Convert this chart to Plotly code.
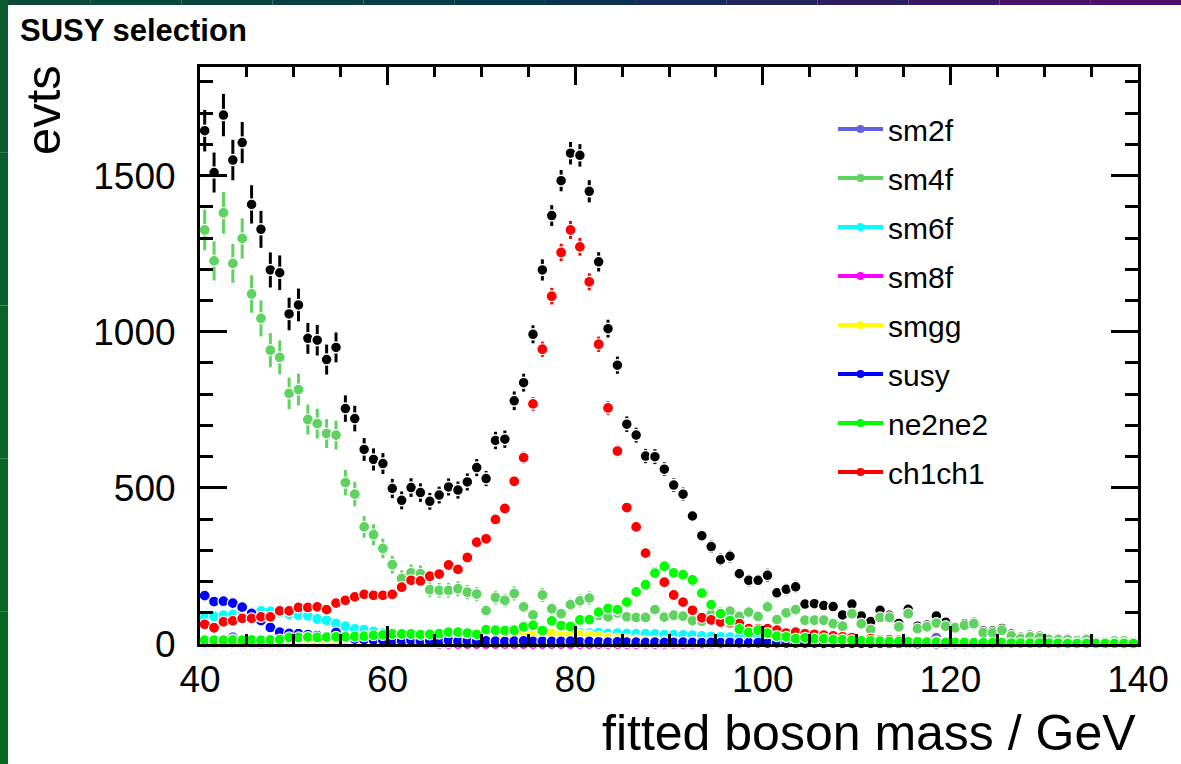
import numpy as np
import plotly.graph_objects as go

# ---------------- data ----------------
bin_centers = [40.5 + i for i in range(100)]

total = [1644, 1510, 1694, 1550, 1606, 1408, 1328, 1198, 1189, 1057,
         1086, 979, 973, 911, 950, 754, 722, 623, 591, 578,
         498, 460, 501, 485, 457, 477, 503, 493, 519, 565,
         530, 652, 656, 779, 837, 992, 1198, 1372, 1484, 1572,
         1565, 1450, 1224, 1010, 893, 704, 669, 602, 600, 560,
         509, 480, 410, 347, 312, 270, 281, 225, 204, 204,
         220, 164, 175, 183, 128, 129, 123, 120, 93, 128,
         90, 72, 108, 92, 66, 111, 57, 61, 90, 70,
         54, 65, 70, 42, 42, 50, 32, 22, 28, 25,
         18, 18, 18, 14, 18, 10, 10, 13, 13, 10]

sm2f = [1, 2, 1, 22, 2, 1, 2, 1, 1, 2,
        1, 1, 2, 1, 1, 2, 1, 1, 1, 2,
        1, 1, 1, 2, 1, 1, 1, 1, 2, 1,
        1, 1, 1, 1, 2, 1, 1, 1, 1, 1,
        1, 1, 1, 1, 1, 1, 1, 1, 1, 1,
        1, 1, 1, 1, 1, 1, 1, 1, 1, 1,
        1, 1, 1, 1, 1, 1, 1, 1, 1, 1,
        1, 1, 1, 1, 1, 1, 1, 1, 20, 1,
        1, 1, 1, 1, 1, 1, 1, 1, 1, 1,
        1, 1, 1, 1, 1, 1, 1, 1, 1, 1]

sm4f = [1326, 1227, 1381, 1219, 1299, 1121, 1043, 941, 918, 803,
        815, 719, 706, 674, 669, 517, 480, 375, 350, 306,
        254, 210, 228, 225, 174, 172, 172, 177, 166, 160,
        107, 149, 140, 162, 119, 93, 157, 113, 97, 126,
        138, 147, 92, 87, 100, 87, 85, 85, 110, 86,
        92, 89, 75, 73, 95, 102, 105, 88, 102, 88,
        119, 78, 100, 110, 76, 76, 76, 65, 57, 97,
        65, 46, 85, 85, 55, 97, 49, 55, 67, 57,
        52, 60, 65, 36, 36, 44, 26, 17, 23, 20,
        14, 14, 14, 10, 14, 7, 7, 10, 10, 7]

sm6f = [85, 88, 92, 95, 97, 102, 106, 105, 100, 95,
        92, 90, 80, 76, 66, 57, 48, 46, 40, 35,
        33, 32, 30, 30, 29, 28, 27, 30, 28, 30,
        27, 29, 30, 28, 31, 30, 32, 33, 35, 36,
        37, 35, 36, 34, 35, 34, 33, 33, 32, 30,
        30, 29, 28, 26, 24, 23, 22, 21, 20, 19,
        18, 16, 15, 14, 13, 12, 11, 10, 10, 9,
        8, 8, 7, 7, 6, 6, 5, 5, 5, 4,
        4, 4, 3, 3, 3, 3, 2, 2, 2, 2,
        2, 2, 1, 1, 1, 1, 1, 1, 1, 1]

sm8f = [0, 0, 0, 0, 0, 0, 0, 0, 0, 0,
        0, 0, 0, 0, 0, 0, 0, 0, 0, 0,
        0, 0, 0, 0, 0, 0, 0, 0, 0, 0,
        0, 0, 0, 0, 0, 0, 0, 0, 0, 0,
        0, 0, 0, 0, 0, 0, 0, 0, 0, 0,
        0, 0, 0, 0, 0, 0, 0, 0, 0, 0,
        0, 0, 0, 0, 0, 0, 0, 0, 0, 0,
        0, 0, 0, 0, 0, 0, 0, 0, 0, 0,
        0, 0, 0, 0, 0, 0, 0, 0, 0, 0,
        0, 0, 0, 0, 0, 0, 0, 0, 0, 0]

smgg = [3, 3, 2, 3, 3, 3, 4, 3, 3, 3,
        2, 3, 3, 3, 3, 3, 3, 2, 3, 3,
        3, 3, 3, 3, 3, 5, 6, 8, 10, 14,
        18, 22, 25, 28, 30, 32, 33, 34, 33, 31,
        30, 27, 24, 20, 17, 14, 12, 10, 9, 8,
        7, 6, 6, 5, 5, 4, 4, 4, 3, 3,
        3, 3, 3, 2, 2, 2, 2, 2, 2, 2,
        1, 1, 1, 1, 1, 1, 1, 1, 1, 1,
        1, 1, 1, 1, 1, 1, 0, 0, 0, 0,
        0, 0, 0, 0, 0, 0, 0, 0, 0, 0]

susy = [155, 136, 137, 131, 118, 98, 75, 53, 38, 34,
        33, 30, 27, 24, 37, 20, 16, 14, 13, 12,
        11, 10, 12, 10, 9, 10, 11, 9, 10, 9,
        10, 9, 8, 9, 10, 8, 9, 8, 8, 9,
        7, 8, 7, 6, 7, 6, 6, 5, 6, 5,
        5, 6, 5, 4, 5, 4, 5, 4, 4, 4,
        3, 4, 3, 3, 3, 3, 2, 3, 2, 2,
        2, 2, 2, 2, 2, 2, 1, 2, 1, 1,
        1, 1, 1, 1, 1, 1, 1, 1, 1, 1,
        1, 1, 0, 1, 0, 0, 0, 0, 0, 0]

ne2ne2 = [12, 12, 12, 13, 12, 13, 12, 13, 14, 21,
          21, 22, 21, 22, 23, 23, 24, 25, 28, 29,
          32, 32, 32, 30, 31, 33, 38, 38, 35, 31,
          46, 44, 43, 44, 55, 60, 43, 74, 59, 56,
          77, 78, 102, 114, 110, 134, 167, 190, 227, 249,
          228, 222, 205, 163, 126, 97, 75, 48, 37, 44,
          35, 25, 23, 17, 20, 17, 17, 14, 14, 12,
          10, 10, 9, 8, 8, 7, 7, 6, 6, 5,
          5, 5, 4, 4, 4, 4, 3, 3, 3, 3,
          3, 3, 2, 2, 2, 2, 2, 2, 2, 2]

ch1ch1 = [63, 52, 71, 74, 82, 82, 87, 87, 106, 106,
          117, 117, 119, 110, 131, 140, 151, 159, 156, 156,
          159, 182, 204, 202, 217, 224, 253, 239, 277, 326,
          337, 399, 434, 521, 597, 769, 944, 1114, 1254, 1326,
          1272, 1160, 960, 756, 618, 437, 375, 291, 231, 198,
          157, 134, 108, 84, 77, 70, 68, 65, 49, 49,
          49, 44, 35, 38, 33, 31, 28, 26, 23, 20,
          14, 17, 14, 14, 12, 10, 8, 8, 7, 6,
          5, 5, 4, 4, 3, 3, 3, 2, 2, 2,
          2, 1, 1, 1, 1, 1, 1, 1, 1, 1]

# event weight of each sample (error = sqrt(sum w^2) = sqrt(w * content))
sample_weight = {"sm2f": 5.0, "sm4f": 3.2, "sm6f": 0.5, "sm8f": 1.0,
                 "smgg": 0.5, "susy": 0.6, "ne2ne2": 0.2, "ch1ch1": 0.63}

series_names = ["sm2f", "sm4f", "sm6f", "sm8f", "smgg", "susy", "ne2ne2", "ch1ch1"]
series_values = [sm2f, sm4f, sm6f, sm8f, smgg, susy, ne2ne2, ch1ch1]
series_colors = ["#6262e0", "#5fd35f", "#00ffff", "#ff00ff", "#ffff00",
                 "#0000ff", "#00ff00", "#ff0000"]

for arr in [total] + series_values:
    assert len(arr) == 100

x_ticks = [40, 60, 80, 100, 120, 140]
y_ticks = [0, 500, 1000, 1500]

# ---------------- layout geometry ----------------
W, H = 1181, 764
ML, MR, MT, MB = 200, 43, 67, 120
PW, PH = W - ML - MR, H - MT - MB


def px_x(p):
    return (p - ML) / PW


def px_y(p):
    return (H - MB - p) / PH


FONT = "Liberation Sans, Arial, Helvetica, sans-serif"

fig = go.Figure()

# total (black)
tot_err = np.sqrt(sum(sample_weight[n] * np.array(v, float)
                      for n, v in zip(series_names, series_values)))
fig.add_trace(go.Scatter(
    x=bin_centers, y=total, mode="markers", showlegend=False,
    marker=dict(color="black", size=11, line=dict(color="white", width=1.5)),
    error_y=dict(type="data", array=tot_err, color="black", thickness=3, width=0),
    cliponaxis=False, hoverinfo="skip"))

draw_order = ["sm2f", "sm4f", "sm6f", "sm8f", "smgg", "susy", "ch1ch1", "ne2ne2"]
for name in draw_order:
    i = series_names.index(name)
    v = np.array(series_values[i], float)
    err = np.sqrt(sample_weight[name] * v)
    fig.add_trace(go.Scatter(
        x=bin_centers, y=series_values[i], mode="markers", showlegend=False,
        marker=dict(color=series_colors[i], size=11,
                    line=dict(color="white", width=1.2)),
        error_y=dict(type="data", array=err, color=series_colors[i],
                     thickness=3, width=0),
        cliponaxis=False, hoverinfo="skip"))

# legend entries
for i, name in enumerate(series_names):
    fig.add_trace(go.Scatter(
        x=[None], y=[None], mode="lines+markers", name=name,
        legendgroup=name,
        line=dict(color=series_colors[i], width=4),
        marker=dict(color=series_colors[i], size=8)))

# page frame strips (gradient approximations)
top_cols = ["#0c4a34", "#0b4838", "#0a443c", "#094040", "#083c46", "#08384a",
            "#0c3250", "#162b56", "#22245a", "#2e1d5e", "#3a1762", "#451266",
            "#4c0f6a"]
n = len(top_cols)
for k, c in enumerate(top_cols):
    fig.add_shape(type="rect", xref="paper", yref="paper",
                  x0=px_x(W * k / n), x1=px_x(W * (k + 1) / n),
                  y0=px_y(5), y1=px_y(0), fillcolor=c, line_width=0)
left_cols = ["#0b5a30", "#0a5e2c", "#096228", "#086524", "#076820"]
m = len(left_cols)
for k, c in enumerate(left_cols):
    fig.add_shape(type="rect", xref="paper", yref="paper",
                  x0=px_x(0), x1=px_x(8),
                  y0=px_y(H * (k + 1) / m), y1=px_y(H * k / m),
                  fillcolor=c, line_width=0)

axis_common = dict(showline=True, linecolor="black", linewidth=3, mirror="allticks",
                   ticks="inside", tickcolor="black", tickwidth=3,
                   showgrid=False, zeroline=False,
                   tickfont=dict(family=FONT, size=37, color="black"))

fig.update_xaxes(range=[40, 140], tickvals=x_ticks, ticklen=18,
                 ticklabelstandoff=1,
                 minor=dict(dtick=5, ticklen=10, tickwidth=3, tickcolor="black",
                            ticks="inside", showgrid=False),
                 **axis_common)
fig.update_yaxes(range=[0, 1848], tickvals=y_ticks, ticklen=27,
                 ticklabelstandoff=14,
                 minor=dict(dtick=100, ticklen=13, tickwidth=3, tickcolor="black",
                            ticks="inside", showgrid=False),
                 **axis_common)

fig.add_annotation(text="fitted boson mass / GeV", xref="paper", yref="paper",
                   x=px_x(1138), y=px_y(733), xanchor="right", yanchor="middle",
                   showarrow=False, font=dict(family=FONT, size=50, color="black"))
fig.add_annotation(text="evts", xref="paper", yref="paper", textangle=-90,
                   x=px_x(43), y=px_y(110), xanchor="center", yanchor="middle",
                   showarrow=False, font=dict(family=FONT, size=49, color="black"))
fig.add_annotation(text="<b>SUSY selection</b>", xref="paper", yref="paper",
                   x=px_x(18), y=px_y(30), xanchor="left", yanchor="middle",
                   showarrow=False, font=dict(family=FONT, size=31, color="black"))

fig.update_layout(
    width=W, height=H,
    margin=dict(l=ML, r=MR, t=MT, b=MB, pad=0),
    paper_bgcolor="white", plot_bgcolor="white",
    showlegend=True,
    legend=dict(x=px_x(833), y=px_y(103), xanchor="left", yanchor="top",
                traceorder="grouped", tracegroupgap=7,
                font=dict(family=FONT, size=30, color="black"),
                bgcolor="rgba(0,0,0,0)", borderwidth=0, itemwidth=45),
)

fig.write_html("out.html")
